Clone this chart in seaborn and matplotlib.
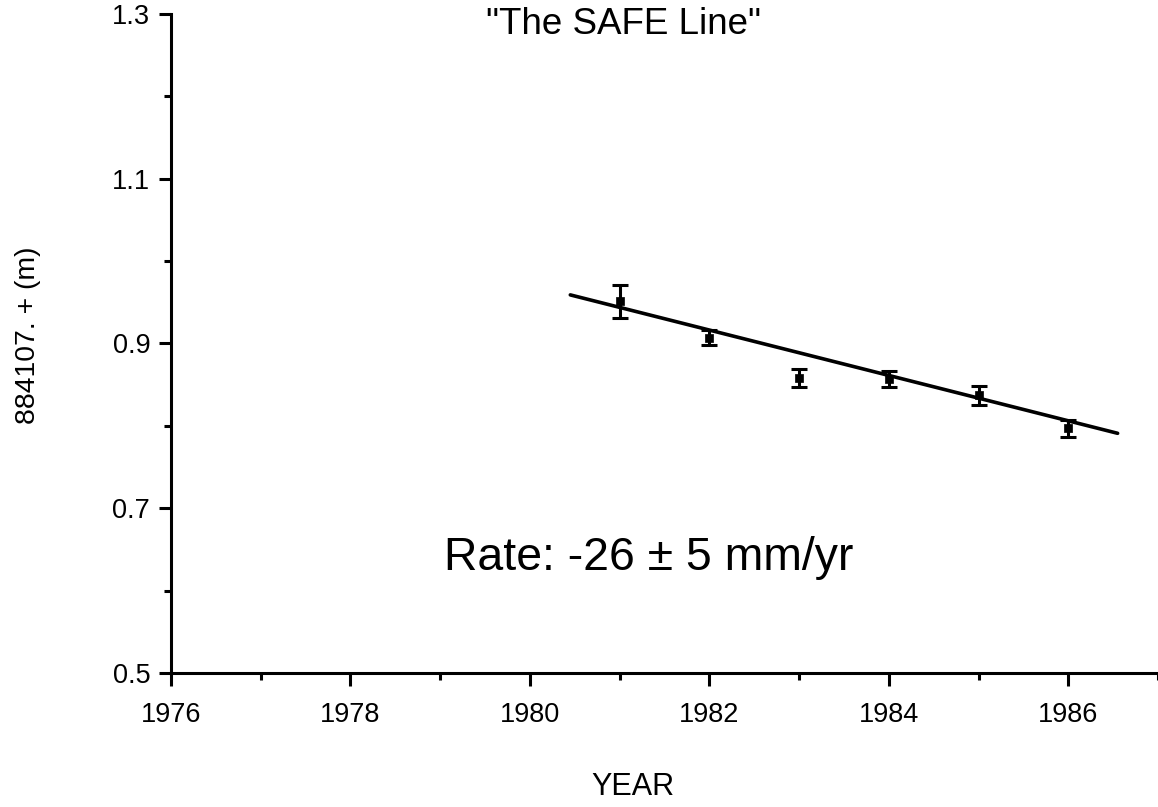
import matplotlib
matplotlib.use("Agg")
import matplotlib.pyplot as plt
import seaborn as sns
import pandas as pd
from matplotlib.ticker import MultipleLocator

# Data
years = [1981, 1982, 1983, 1984, 1985, 1986]
values = [0.951, 0.907, 0.858, 0.857, 0.837, 0.797]
errors = [0.020, 0.009, 0.011, 0.010, 0.012, 0.010]
fit_years = [1980.45, 1986.55]
fit_values = [0.959, 0.791]
x_ticks = [1976, 1978, 1980, 1982, 1984, 1986]
y_ticks = [0.5, 0.7, 0.9, 1.1, 1.3]

sns.set_theme(style="ticks")
plt.rcParams['font.family'] = ['Liberation Sans', 'DejaVu Sans']
plt.rcParams['text.color'] = 'black'
plt.rcParams['axes.labelcolor'] = 'black'

fig = plt.figure(figsize=(11.58, 8.07), dpi=100)
ax = fig.add_axes([0.1477, 0.166, 0.8523, 0.8167])

pts = pd.DataFrame({"year": years, "value": values, "err": errors})
fit = pd.DataFrame({"year": fit_years, "value": fit_values})

sns.lineplot(data=fit, x="year", y="value", ax=ax, color="black", linewidth=2.6)
ax.errorbar(pts["year"], pts["value"], yerr=pts["err"], fmt="none",
            ecolor="black", elinewidth=2.2, capsize=6, capthick=2.2)
sns.scatterplot(data=pts, x="year", y="value", ax=ax, color="black",
                marker="s", s=30, edgecolor="black", linewidth=0.5)

ax.set_xlim(1976, 1987)
ax.set_ylim(0.5, 1.3)
ax.set_xticks(x_ticks)
ax.set_yticks(y_ticks)
ax.xaxis.set_minor_locator(MultipleLocator(1))
ax.yaxis.set_minor_locator(MultipleLocator(0.1))
ax.set_xticklabels([str(t) for t in x_ticks])
ax.set_yticklabels([f"{t:.1f}" for t in y_ticks])

for s in ["top", "right"]:
    ax.spines[s].set_visible(False)
for s in ["left", "bottom"]:
    ax.spines[s].set_linewidth(2.2)
    ax.spines[s].set_color("black")

ax.tick_params(axis="both", which="major", direction="out", length=9, width=2.2,
               labelsize=19.5, colors="black", pad=6)
ax.tick_params(axis="x", which="major", pad=12)
ax.tick_params(axis="both", which="minor", direction="out", length=5, width=2.2,
               colors="black")

ax.set_xlabel("")
ax.set_ylabel("")
fig.text(633 / 1158, 1 - 787 / 807, "YEAR", fontsize=22, ha="center", va="center")
fig.text(28 / 1158, 1 - 335 / 807, "884107. + (m)", fontsize=20.4, rotation=90,
         ha="center", va="center")
fig.text(624 / 1158, 1 - 24 / 807, '"The SAFE Line"', fontsize=26.5, ha="center", va="center")
fig.text(649 / 1158, 1 - 558 / 807, "Rate: -26 \u00b1 5 mm/yr", fontsize=33.4,
         ha="center", va="center")

fig.savefig("out.png", dpi=100)
